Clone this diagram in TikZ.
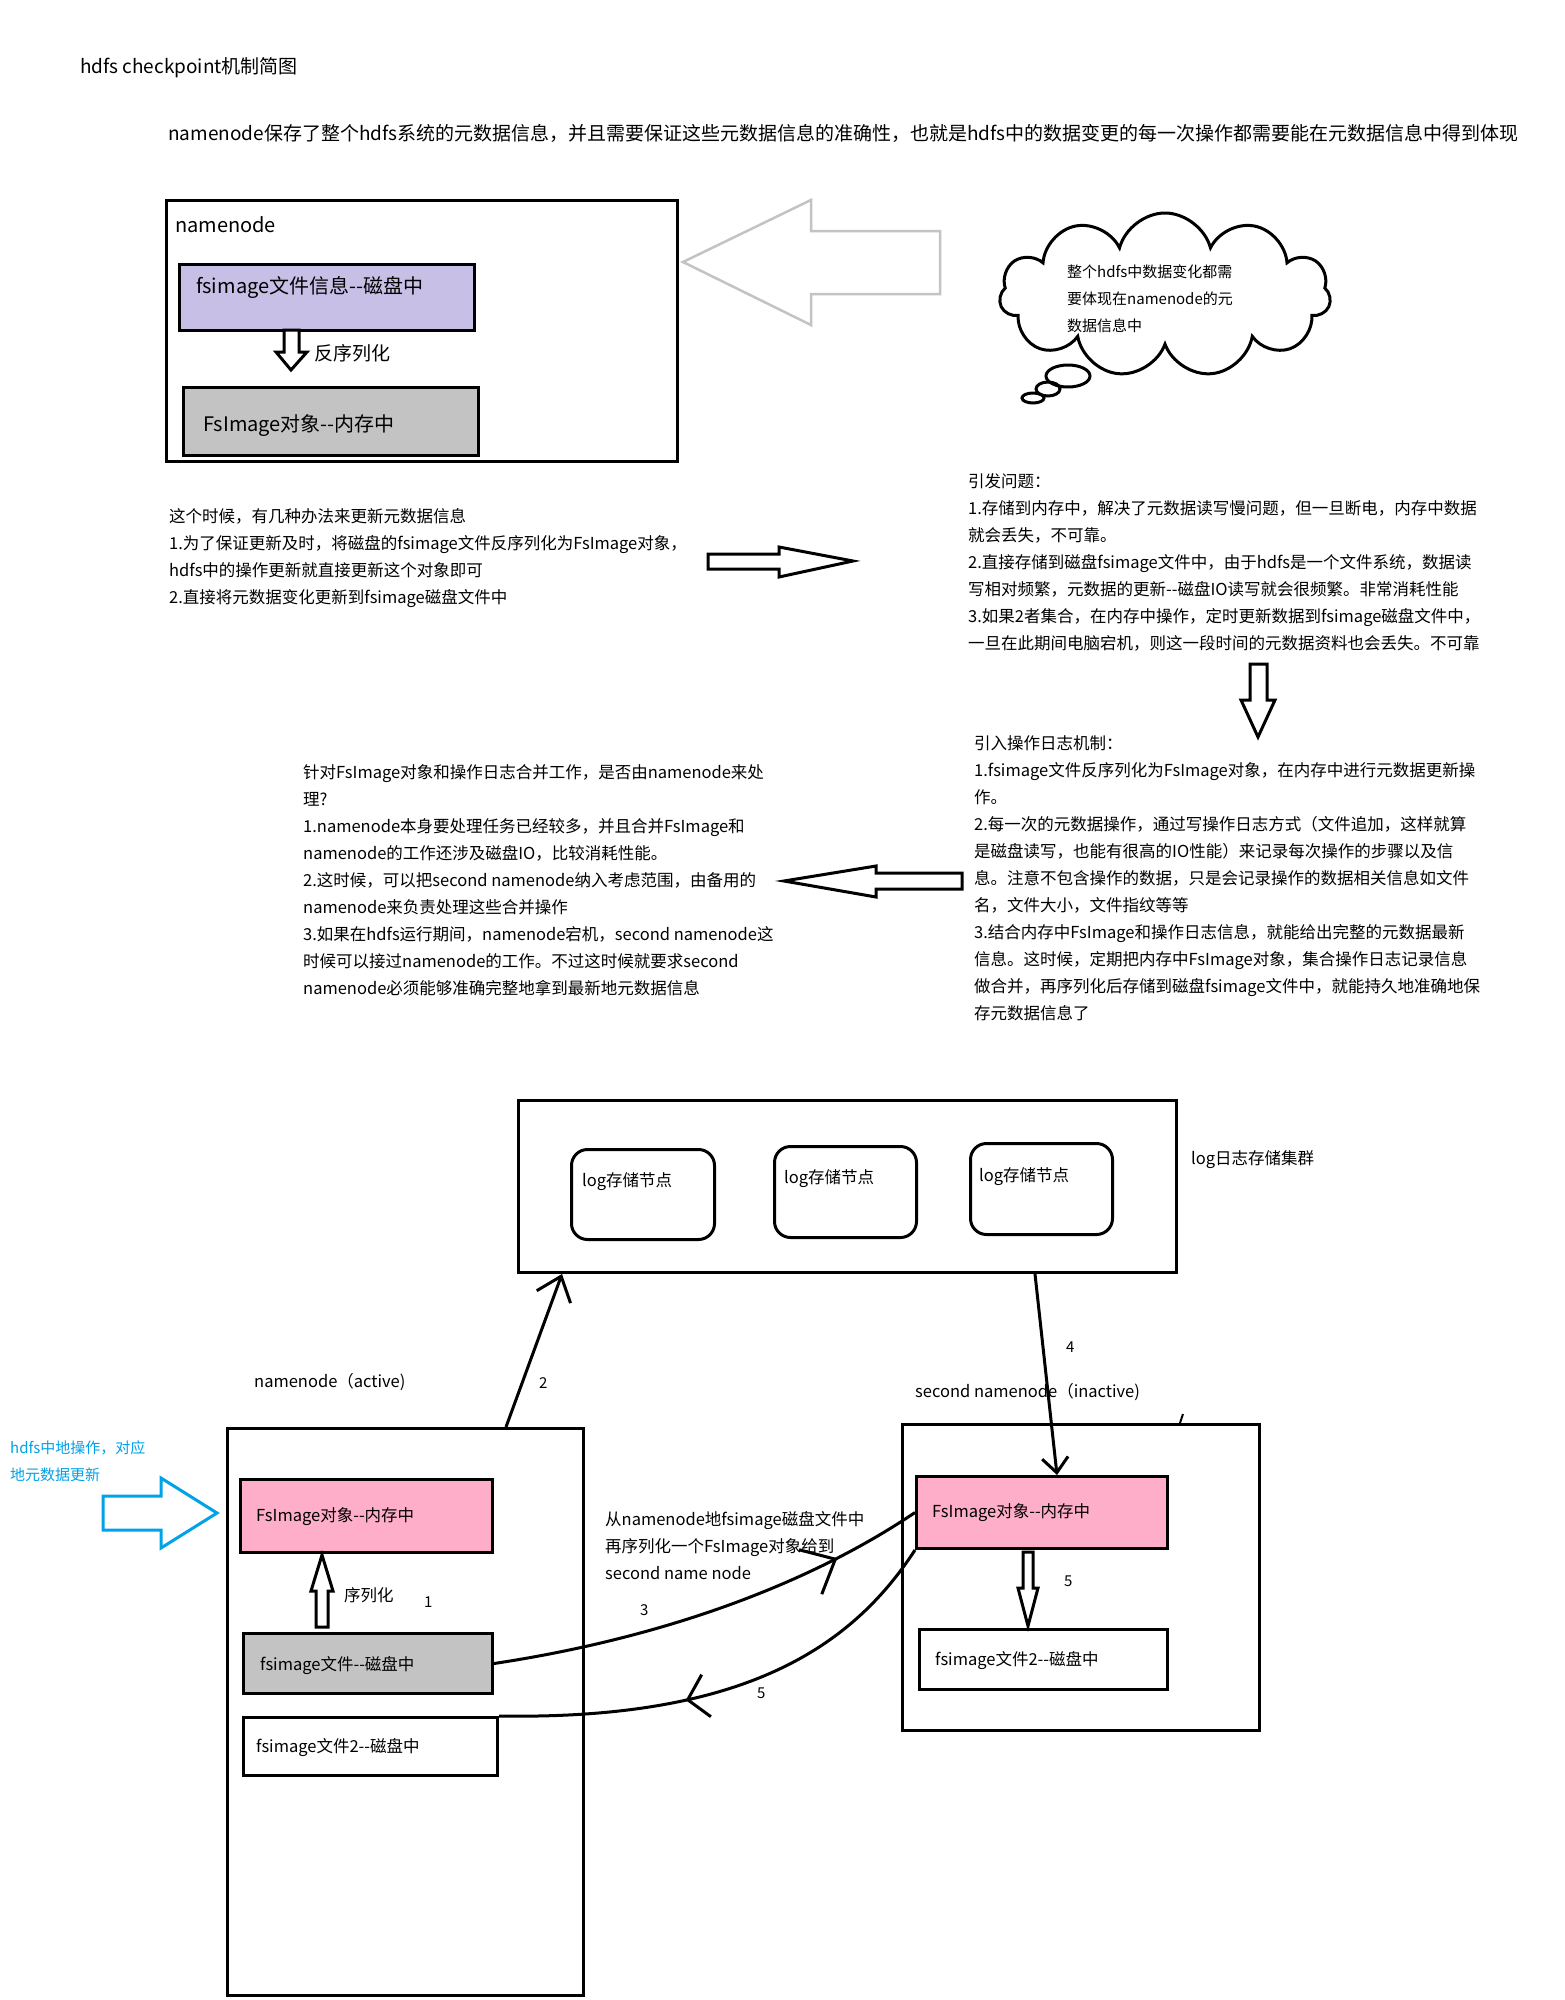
\documentclass[tikz,border=0pt]{standalone}
\usepackage{fontspec}
\setmainfont{Noto Sans CJK SC}
\usetikzlibrary{shapes.symbols,arrows.meta,decorations.markings}
\definecolor{lav}{HTML}{C8BFE7}
\definecolor{gry}{HTML}{C3C3C3}
\definecolor{pnk}{HTML}{FFAEC9}
\definecolor{sky}{HTML}{00A2E8}
\newcommand\dd{\mbox{-}\mbox{-}}
\begin{document}
\begin{tikzpicture}[x=1pt,y=-1pt,
  txt/.style={inner sep=0pt, anchor=west, font=\fontsize{16.5}{27}\selectfont},
  big/.style={inner sep=0pt, anchor=west, font=\fontsize{19}{27}\selectfont},
  boxtxt/.style={inner sep=0pt, anchor=west, font=\fontsize{20}{27}\selectfont},
  num/.style={inner sep=0pt, anchor=west, font=\fontsize{15}{20}\selectfont},
  para/.style={inner sep=0pt, anchor=north west, align=left, font=\fontsize{16.5}{27}\selectfont},
  box/.style={draw, line width=3pt, inner sep=0pt, anchor=north west},
  logbox/.style={box, rounded corners=16pt},
  blockarrow/.style={draw, line width=3pt, line join=miter, fill=white},
  conn/.style={line width=3pt},
]
\useasboundingbox[fill=white] (0,0) rectangle (1564,2000);

% ---------- header ----------
\node[big] (title) at (80,68) {hdfs checkpoint机制简图};
\node[big] (intro) at (168,133) {namenode保存了整个hdfs系统的元数据信息，并且需要保证这些元数据信息的准确性，也就是hdfs中的数据变更的每一次操作都需要能在元数据信息中得到体现};

% ---------- top namenode ----------
\node[box, minimum width=511pt, minimum height=261pt] (nn) at (165,199) {};
\node[boxtxt] (nnlab) at (175,225) {namenode};
\node[box, fill=lav, minimum width=295pt, minimum height=66pt] (fsi) at (178,263) {};
\node[boxtxt] (fsit) at (196,287) {fsimage文件信息\dd 磁盘中};
\node[box, fill=gry, minimum width=295pt, minimum height=68pt] (fso) at (182,386) {};
\node[boxtxt] (fsot) at (203,426) {FsImage对象\dd 内存中};
\draw[blockarrow] (284,330) -- (299,330) -- (299,352) -- (307,352) -- (291,370) -- (276,352) -- (284,352) -- cycle;
\node[big] (fxl) at (314,353) {反序列化};

% big gray arrow
\draw[blockarrow, draw=gry, line width=2.5pt] (940,231) -- (811,231) -- (811,200) -- (683,262) -- (811,325) -- (811,294) -- (940,294) -- cycle;

% cloud
\node[cloud, draw, line width=3pt, cloud puffs=11, cloud ignores aspect, minimum width=331pt, minimum height=164pt] (cloud) at (1165,295) {};
\draw[line width=3pt] (1068,376) ellipse [x radius=22, y radius=11];
\draw[line width=3pt] (1048,389) ellipse [x radius=12, y radius=7];
\draw[line width=3pt] (1033,398) ellipse [x radius=11, y radius=5];
\node[para, font=\fontsize{15}{27}\selectfont] (cloudt) at (1067,264.5) {整个hdfs中数据变化都需\\要体现在namenode的元\\数据信息中};

% ---------- text blocks ----------
\node[para] (blkA) at (169,508.75) {这个时候，有几种办法来更新元数据信息\\1.为了保证更新及时，将磁盘的fsimage文件反序列化为FsImage对象，\\hdfs中的操作更新就直接更新这个对象即可\\2.直接将元数据变化更新到fsimage磁盘文件中};
\draw[blockarrow] (708,554) -- (779,554) -- (779,547) -- (853,561) -- (779,577) -- (779,569) -- (708,569) -- cycle;

\node[para] (blkB) at (968,473.75) {引发问题：\\1.存储到内存中，解决了元数据读写慢问题，但一旦断电，内存中数据\\就会丢失，不可靠。\\2.直接存储到磁盘fsimage文件中，由于hdfs是一个文件系统，数据读\\写相对频繁，元数据的更新\dd 磁盘IO读写就会很频繁。非常消耗性能\\3.如果2者集合，在内存中操作，定时更新数据到fsimage磁盘文件中，\\一旦在此期间电脑宕机，则这一段时间的元数据资料也会丢失。不可靠};
\draw[blockarrow] (1250,664) -- (1267,664) -- (1267,700) -- (1275,700) -- (1258,737) -- (1241,700) -- (1250,700) -- cycle;

\node[para] (blkC) at (974,735.75) {引入操作日志机制：\\1.fsimage文件反序列化为FsImage对象，在内存中进行元数据更新操\\作。\\2.每一次的元数据操作，通过写操作日志方式（文件追加，这样就算\\是磁盘读写，也能有很高的IO性能）来记录每次操作的步骤以及信\\息。注意不包含操作的数据，只是会记录操作的数据相关信息如文件\\名，文件大小，文件指纹等等\\3.结合内存中FsImage和操作日志信息，就能给出完整的元数据最新\\信息。这时候，定期把内存中FsImage对象，集合操作日志记录信息\\做合并，再序列化后存储到磁盘fsimage文件中，就能持久地准确地保\\存元数据信息了};
\draw[blockarrow] (962,873) -- (876,873) -- (876,866) -- (784,881) -- (876,897) -- (876,889) -- (962,889) -- cycle;

\node[para] (blkD) at (303,764.75) {针对FsImage对象和操作日志合并工作，是否由namenode来处\\理?\\1.namenode本身要处理任务已经较多，并且合并FsImage和\\namenode的工作还涉及磁盘IO，比较消耗性能。\\2.这时候，可以把second namenode纳入考虑范围，由备用的\\namenode来负责处理这些合并操作\\3.如果在hdfs运行期间，namenode宕机，second namenode这\\时候可以接过namenode的工作。不过这时候就要求second\\namenode必须能够准确完整地拿到最新地元数据信息};

% ---------- log cluster ----------
\node[box, minimum width=658pt, minimum height=172pt] (log) at (517,1099) {};
\node[logbox, minimum width=143pt, minimum height=90pt] (l1) at (570,1148) {};
\node[logbox, minimum width=142pt, minimum height=91pt] (l2) at (773,1145) {};
\node[logbox, minimum width=142pt, minimum height=91pt] (l3) at (969,1142) {};
\node[txt] (l1t) at (582,1182) {log存储节点};
\node[txt] (l2t) at (784,1179) {log存储节点};
\node[txt] (l3t) at (979,1177) {log存储节点};
\node[txt] (logt) at (1191,1160) {log日志存储集群};

% ---------- active namenode ----------
\node[txt] (actl) at (254,1382) {namenode（active)};
\node[box, minimum width=356pt, minimum height=567pt] (act) at (226,1427) {};
\node[box, fill=pnk, minimum width=252pt, minimum height=73pt] (pk1) at (239,1478) {};
\node[txt] (pk1t) at (256,1517) {FsImage对象\dd 内存中};
\node[box, fill=gry, minimum width=249pt, minimum height=60pt] (gr1) at (242,1632) {};
\node[txt] (gr1t) at (260,1666) {fsimage文件\dd 磁盘中};
\node[box, fill=white, minimum width=254pt, minimum height=58pt] (wh1) at (242,1716) {};
\node[txt] (wh1t) at (256,1748) {fsimage文件2\dd 磁盘中};
\draw[blockarrow] (316,1627) -- (316,1591) -- (311,1591) -- (322,1555) -- (333,1591) -- (328,1591) -- (328,1627) -- cycle;
\node[txt] (xlh) at (344,1595) {序列化};
\node[num] (n1) at (424,1602) {1};

% blue note
\node[para, font=\fontsize{15}{27}\selectfont, text=sky] (blue) at (10,1440.5) {hdfs中地操作，对应\\地元数据更新};
\draw[blockarrow, draw=sky] (103,1496) -- (161,1496) -- (161,1478) -- (217,1513) -- (161,1548) -- (161,1530) -- (103,1530) -- cycle;

% ---------- second namenode ----------
\node[txt] (secl) at (915,1392) {second namenode（inactive)};
\node[box, minimum width=357pt, minimum height=306pt] (sec) at (901,1423) {};
\draw[line width=2pt] (1180,1423) -- (1183,1414);
\node[box, fill=pnk, minimum width=251pt, minimum height=72pt] (pk2) at (915,1475) {};
\node[txt] (pk2t) at (932,1513) {FsImage对象\dd 内存中};
\node[box, fill=white, minimum width=248pt, minimum height=60pt] (wh2) at (918,1628) {};
\node[txt] (wh2t) at (935,1661) {fsimage文件2\dd 磁盘中};
\draw[blockarrow] (1023,1552) -- (1033,1552) -- (1033,1588) -- (1038,1588) -- (1028,1626) -- (1018,1588) -- (1023,1588) -- cycle;
\node[num] (n5b) at (1064,1581) {5};

% ---------- connectors ----------
\draw[conn, -{Straight Barb[length=22pt,width=36pt]}] ([xshift=280pt]act.north west) -- ([xshift=45pt]log.south west);
\node[num] (n2) at (539,1383) {2};
\draw[conn, -{Straight Barb[length=15pt,width=26pt]}] ([xshift=518pt]log.south west) -- ([xshift=142pt]pk2.north west);
\node[num] (n4) at (1066,1347) {4};

\draw[conn, decoration={markings, mark=at position 0.8 with {\arrow{Straight Barb[length=28pt,width=50pt]}}}, postaction=decorate]
  (gr1.east) .. controls (650,1640) and (800,1590) .. (pk2.west);
\node[num] (n3) at (640,1610) {3};
\node[para] (midt) at (605,1511.75) {从namenode地fsimage磁盘文件中\\再序列化一个FsImage对象给到\\second name node};

\draw[conn, decoration={markings, mark=at position 0.6 with {\arrow{Straight Barb[length=19pt,width=43pt]}}}, postaction=decorate]
  (pk2.south west) .. controls (850,1650) and (740,1720) .. (wh1.north east);
\node[num] (n5a) at (757,1693) {5};
\end{tikzpicture}
\end{document}
